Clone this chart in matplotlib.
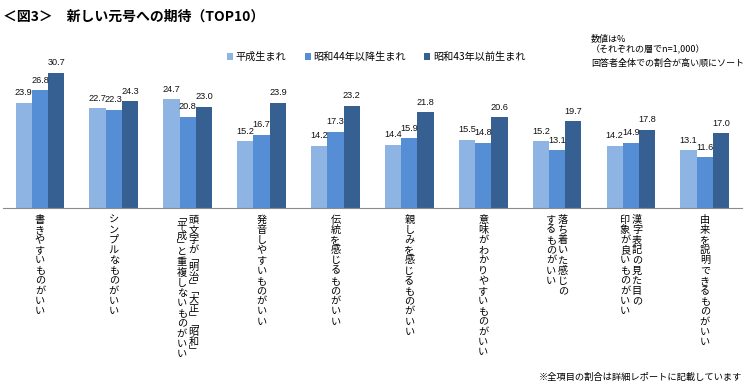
import matplotlib
matplotlib.use('Agg')
import matplotlib.pyplot as plt
import numpy as np

plt.rcParams['font.family'] = ['Noto Sans CJK JP', 'DejaVu Sans']

# category labels, one entry per column of vertical text (rightmost column first)
categories = [
    ['書きやすいものがいい'],
    ['シンプルなものがいい'],
    ['頭文字が「明治」「大正」「昭和」', '「平成」と重複しないものがいい'],
    ['発音しやすいものがいい'],
    ['伝統を感じるものがいい'],
    ['親しみを感じるものがいい'],
    ['意味がわかりやすいものがいい'],
    ['落ち着いた感じの', 'するものがいい'],
    ['漢字表記の見た目の', '印象が良いものがいい'],
    ['由来を説明できるものがいい'],
]
series_names = ['平成生まれ', '昭和44年以降生まれ', '昭和43年以前生まれ']
heisei = [23.9, 22.7, 24.7, 15.2, 14.2, 14.4, 15.5, 15.2, 14.2, 13.1]
showa44_after = [26.8, 22.3, 20.8, 16.7, 17.3, 15.9, 14.8, 13.1, 14.9, 11.6]
showa43_before = [30.7, 24.3, 23.0, 23.9, 23.2, 21.8, 20.6, 19.7, 17.8, 17.0]
colors = ['#8EB4E3', '#558ED5', '#376092']

title = '＜図3＞　新しい元号への期待（TOP10）'
note_lines = ['数値は%', '（それぞれの層でn=1,000）', '回答者全体での割合が高い順にソート']
footnote = '※全項目の割合は詳細レポートに記載しています'

VERT = {'「': '﹁', '」': '﹂'}


def draw_vertical(ax, x, cols, fs=7.3, step=7.35, col_gap=8.6, top=-4.5):
    n = len(cols)
    for c, line in enumerate(cols):
        dx = (n - 1) / 2 * col_gap - c * col_gap
        y = top
        for ch in line:
            st = step * 0.6 if ch in VERT else step
            ax.annotate(VERT.get(ch, ch), xy=(x, 0), xytext=(dx, y - st / 2),
                        textcoords='offset points', ha='center', va='center',
                        fontsize=fs, annotation_clip=False)
            y -= st


fig = plt.figure(figsize=(7.5, 3.92), dpi=100)
ax = fig.add_axes([0.004, 0.469, 0.985, 0.393])

x = np.arange(len(categories))
w = 0.22
data = [heisei, showa44_after, showa43_before]
for k, vals in enumerate(data):
    bars = ax.bar(x + (k - 1) * w, vals, w, color=colors[k], label=series_names[k])
    ax.bar_label(bars, labels=['%.1f' % v for v in vals], padding=4, fontsize=6.6,
                 family=['Liberation Sans Narrow', 'Liberation Sans'], color='#111111')

ax.set_xlim(-0.5, len(categories) - 0.5)
ax.set_ylim(0, 35)
for s in ['top', 'left', 'right']:
    ax.spines[s].set_visible(False)
ax.spines['bottom'].set_color('#8c8c8c')
ax.set_xticks([])
ax.set_yticks([])

for i, cols in enumerate(categories):
    draw_vertical(ax, i, cols)

fig.legend(loc='center left', bbox_to_anchor=(0.302, 1 - 57 / 392), ncol=3, frameon=False,
           fontsize=7.3, handlelength=0.6, handleheight=0.6, handletextpad=0.25,
           columnspacing=1.85, borderpad=0, borderaxespad=0)

fig.text(3 / 750, 1 - 17 / 392, title, fontsize=10, fontweight='bold', va='center', ha='left')
for txt, yy in zip(note_lines, [39, 50, 63]):
    fig.text(591 / 750, 1 - yy / 392, txt, fontsize=6.5, va='center', ha='left')
fig.text(742 / 750, 1 - 377 / 392, footnote, fontsize=6.7, va='center', ha='right')

fig.savefig('out.png', dpi=100)
